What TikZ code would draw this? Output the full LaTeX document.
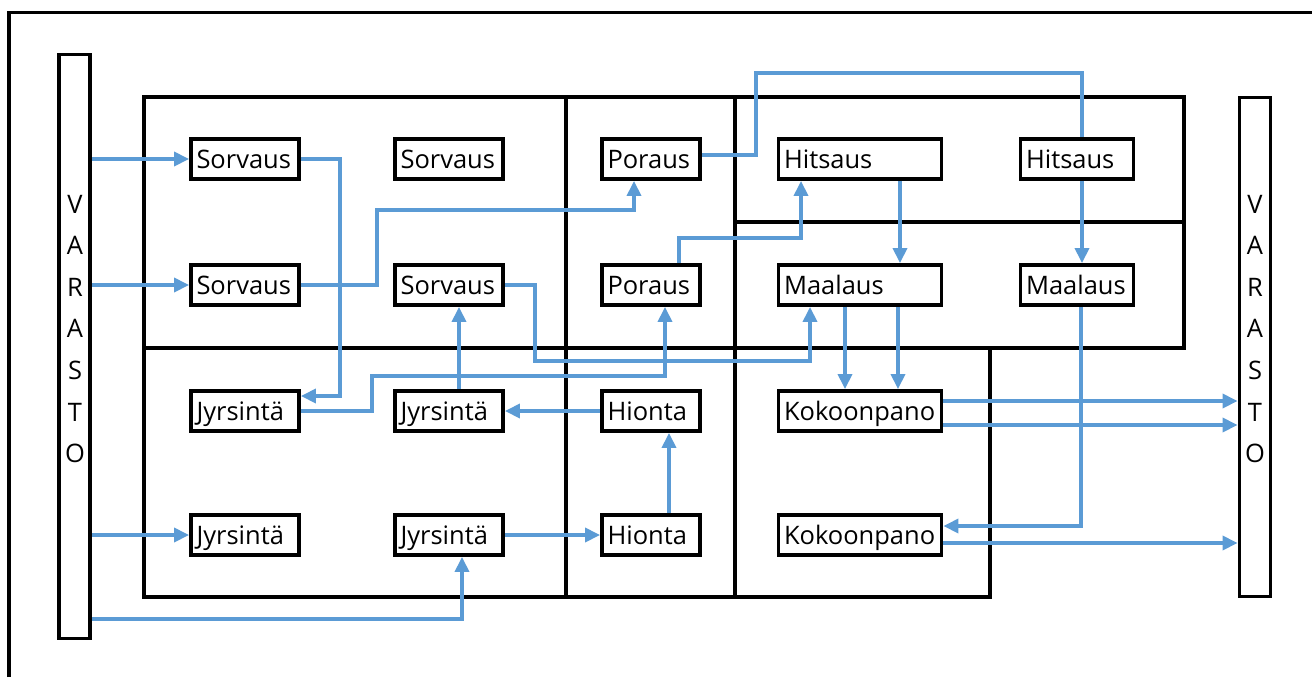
\documentclass[tikz,border=0pt]{standalone}
\usepackage{fontspec}
\setmainfont{Open Sans}
\usepackage{tikz}
\usetikzlibrary{arrows.meta}
\definecolor{flowblue}{HTML}{5B9BD5}
\newcommand{\boxheight}{0.8cm}
\newcommand{\boxfont}{\fontsize{14.5}{17}\selectfont}
\tikzstyle{station}=[draw, line width=2.2pt, minimum height=\boxheight, inner xsep=0.11cm, inner ysep=0,
                     text height=1.2em, text depth=0.1em, align=left, font=\boxfont]
\tikzstyle{narrowbox}=[station, text width=1.94cm]
\tikzstyle{shortbox}=[station, text width=1.74cm]
\tikzstyle{midbox}=[station, text width=2.04cm]
\tikzstyle{widebox}=[station, text width=3.04cm]
\tikzstyle{store}=[draw, line width=2.2pt, minimum width=0.62cm, inner sep=0]
\tikzstyle{storetext}=[inner sep=0, align=center, font=\fontsize{14.5}{23.7}\selectfont]
\tikzstyle{wall}=[line width=2.2pt]
\tikzstyle{flowline}=[flowblue, line width=2pt]
\tikzstyle{flow}=[flowline, -{Triangle[length=0.3cm, width=0.28cm]}]
\tikzstyle{plan}=[x=0.02cm, y=-0.02cm]

\begin{document}
\begin{tikzpicture}[plan]
    \useasboundingbox (0,0) rectangle (1312,677);
    % hall and departments
    \draw[wall] (9,677) -- (9,12.5) -- (1312,12.5);
    \draw[wall] (144,97) rectangle (1184,348);
    \draw[wall] (144,348) rectangle (990,597);
    \draw[wall] (566,97) -- (566,597);
    \draw[wall] (735,97) -- (735,597);
    \draw[wall] (735,222) -- (1184,222);

    % storages
    \node[store, minimum height=11.68cm] (VarL) at (74.5,346.5) {};
    \node[store, minimum height=9.98cm] (VarR) at (1255,347) {};
    \node[storetext] (VarLtext) at (75,329) {V\\A\\R\\A\\S\\T\\O};
    \node[storetext] (VarRtext) at (1255,329) {V\\A\\R\\A\\S\\T\\O};

    % machines
    \node[narrowbox] (Sorv1) at (245,159) {Sorvaus};
    \node[narrowbox] (Sorv2) at (449,159) {Sorvaus};
    \node[narrowbox] (Sorv3) at (245,285) {Sorvaus};
    \node[narrowbox] (Sorv4) at (449,285) {Sorvaus};
    \node[shortbox] (Por1) at (651,159) {Poraus};
    \node[shortbox] (Por2) at (651,285) {Poraus};
    \node[widebox] (Hits1) at (860,159) {Hitsaus};
    \node[midbox] (Hits2) at (1077,159) {Hitsaus};
    \node[widebox] (Maal1) at (860,285) {Maalaus};
    \node[midbox] (Maal2) at (1077,285) {Maalaus};
    \node[narrowbox] (Jyrs1) at (245,411) {Jyrsintä};
    \node[narrowbox] (Jyrs2) at (449,411) {Jyrsintä};
    \node[narrowbox] (Jyrs3) at (245,535) {Jyrsintä};
    \node[narrowbox] (Jyrs4) at (449,535) {Jyrsintä};
    \node[shortbox] (Hion1) at (651,411) {Hionta};
    \node[shortbox] (Hion2) at (651,535) {Hionta};
    \node[widebox] (Kok1) at (860,411) {Kokoonpano};
    \node[widebox] (Kok2) at (860,535) {Kokoonpano};

    % material flow
    \draw[flow] (VarL.east |- Sorv1) -- (Sorv1.west);
    \draw[flow] (VarL.east |- Sorv3) -- (Sorv3.west);
    \draw[flow] (VarL.east |- Jyrs3) -- (Jyrs3.west);
    \draw[flow] (VarL.east |- 0,619) -| ([xshift=0.26cm]Jyrs4.south);
    \draw[flow] (Sorv1.east) -- ++(39,0) |- ([yshift=0.3cm]Jyrs1.east);
    \draw[flow] (Sorv3.east) -- ++(76,0) -- ++(0,-75) -| ([xshift=-0.34cm]Por1.south);
    \draw[flow] (Jyrs1.east) -- ++(71,0) -- ++(0,-35) -| ([xshift=0.28cm]Por2.south);
    \draw[flow] ([xshift=0.2cm]Jyrs2.north) -- ([xshift=0.2cm]Sorv4.south);
    \draw[flow] (Sorv4.east) -- ++(30,0) -- ++(0,76) -| ([xshift=-1cm]Maal1.south);
    \draw[flow] ([xshift=0.56cm]Por2.north) -- ++(0,-25) -| ([xshift=-1.18cm]Hits1.south);
    \draw[flowline] ([yshift=0.08cm]Por1.east) -- ++(54,0) -- ++(0,-82) -| ([xshift=0.1cm]Hits2.north);
    \draw[flow] ([xshift=0.1cm]Hits2.south) -- ([xshift=0.1cm]Maal2.north);
    \draw[flow] ([xshift=0.8cm]Hits1.south) -- ([xshift=0.8cm]Maal1.north);
    \draw[flow] ([xshift=-0.3cm]Maal1.south) -- ([xshift=-0.3cm]Kok1.north);
    \draw[flow] ([xshift=0.76cm]Maal1.south) -- ([xshift=0.76cm]Kok1.north);
    \draw[flow] ([xshift=0.08cm]Maal2.south) |- ([yshift=0.18cm]Kok2.east);
    \coordinate (out1) at ([yshift=0.2cm]Kok1.east);
    \coordinate (out2) at ([yshift=-0.28cm]Kok1.east);
    \coordinate (out3) at ([yshift=-0.16cm]Kok2.east);
    \draw[flow] (out1) -- (out1 -| VarR.west);
    \draw[flow] (out2) -- (out2 -| VarR.west);
    \draw[flow] (out3) -- (out3 -| VarR.west);
    \draw[flow] (Jyrs4.east) -- (Hion2.west);
    \draw[flow] ([xshift=0.36cm]Hion2.north) -- ([xshift=0.36cm]Hion1.south);
    \draw[flow] (Hion1.west) -- (Jyrs2.east);
\end{tikzpicture}
\end{document}
